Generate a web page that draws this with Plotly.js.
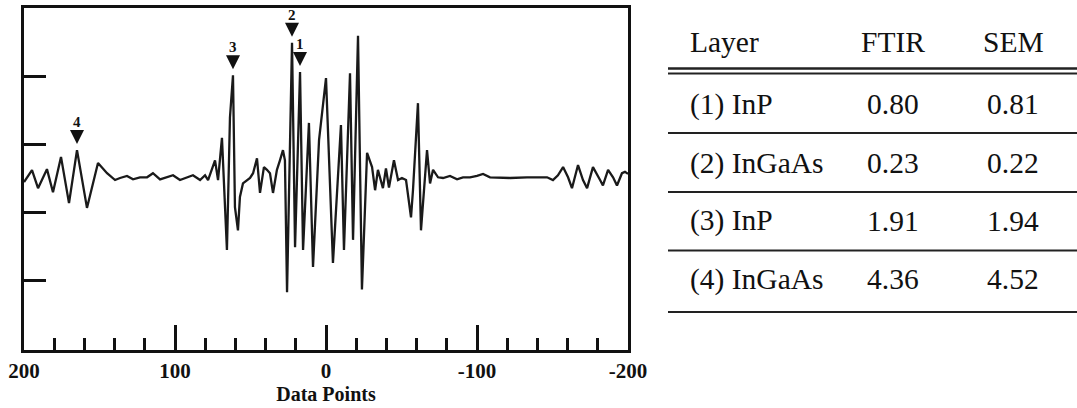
<!DOCTYPE html>
<html><head><meta charset="utf-8">
<script src="https://cdn.plot.ly/plotly-3.0.1.min.js"></script>
<style>html,body{margin:0;padding:0;background:#fff;overflow:hidden}</style>
</head><body><div id="chart" style="width:1077px;height:408px"></div>
<script>
// ---- data ----
const dataPoints = [200,194.7,190.7,184.8,180.8,175.5,170.2,164.9,158.3,151,145,139.7,136.4,131.8,127.8,123.2,118.5,114.6,109.9,105.3,101.3,96.7,92.1,88.1,83.4,80.1,78.1,73.5,71.5,68.9,65.6,63.6,61.6,60.3,58.3,57,55,50.3,48.3,45.7,43.7,41.1,39.1,37.1,35.1,32.5,30.5,28.5,27.2,25.8,22.5,20.5,17.2,15.2,11.3,8.6,4.6,0,-4.6,-7.3,-9.9,-11.9,-15.9,-17.9,-21.2,-23.8,-27.2,-30.5,-32.5,-34.4,-37.7,-39.7,-41.7,-45,-47.7,-50.3,-53,-56.3,-57.6,-60.9,-62.9,-66.9,-68.9,-70.9,-74.2,-77.5,-82.1,-86.8,-90.7,-95.4,-100,-104,-108.6,-121.9,-133.1,-146.4,-150.3,-153.6,-157,-160.3,-162.9,-166.9,-170.2,-172.9,-176.8,-181.5,-183.4,-186.8,-190.1,-192.7,-196,-198,-200];
const amplitude = [-0.05,0.125,-0.14,0.14,-0.2,0.32,-0.36,0.42,-0.43,0.23,0.08,-0.02,0.01,0.04,-0.01,0.02,0.02,0.08,-0.01,0.02,0.05,-0.02,0.02,0.05,-0.02,0.05,-0.02,0.27,-0.02,0.6,-1.05,0.9,1.52,-0.42,-0.76,-0.27,-0.07,0.01,0.08,0.3,-0.21,0.17,0.13,0.08,-0.21,0.13,0.27,0.42,0.27,-1.67,2.0,-1.01,1.57,-1.05,0.82,-1.3,0.57,1.48,-1.24,-0.13,0.79,-1.05,1.55,-0.9,2.1,-1.63,0.38,0.17,-0.17,0.13,-0.14,0.15,-0.13,0.27,-0.02,0.01,-0.02,-0.57,-0.17,1.11,-0.76,0.42,-0.07,0.13,0.02,0.01,0.04,-0.01,0.02,0.02,0.04,0.07,0.02,0.01,0.02,0.02,-0.02,0.05,0.17,0.02,-0.14,0.2,-0.02,-0.14,0.17,-0.02,-0.1,0.13,0.02,-0.1,0.08,0.1,0.07];
const peakLabels = ['4','3','2','1'];
const peakPositions = [164.9, 61.6, 22.5, 17.2];
const xTickValues = [200,100,0,-100,-200];
const xTickLabels = ['200','100','0','-100','-200'];
const xMinorTicks = [180,160,140,120,80,60,40,20,-20,-40,-60,-80,-120,-140,-160,-180];
const yTickValues = [-1.5,-0.5,0.5,1.5];
const tableHeader = ['Layer','FTIR','SEM'];
const layerNames = ['(1) InP','(2) InGaAs','(3) InP','(4) InGaAs'];
const ftirValues = ['0.80','0.23','1.91','4.36'];
const semValues = ['0.81','0.22','1.94','4.52'];

// ---- layout helpers (pixel -> paper) ----
const L=24,R=628,T=8,B=350,W=1077,H=408;
const px = v => (v-L)/(R-L);
const py = v => (B-v)/(B-T);

const serif = 'Liberation Serif, Times New Roman, serif';
const ink = '#111';

const annotations = [];
// peak markers
peakLabels.forEach((lab,i)=>{
  let best=0;
  dataPoints.forEach((d,j)=>{ if(Math.abs(d-peakPositions[i])<Math.abs(dataPoints[best]-peakPositions[i])) best=j; });
  annotations.push({x:dataPoints[best], y:amplitude[best], xref:'x', yref:'y', text:'<b>'+lab+'</b>',
    showarrow:true, ax:0, ay:-28, arrowhead:2, arrowsize:1.4, arrowwidth:2, arrowcolor:ink, standoff:6,
    font:{family:serif, size:15, color:ink}});
});
// table text
const colX = [688, 893, 1013];
const rowY = [42, 104, 163, 221, 279];
const tableFont = {family:serif, size:29.5, color:ink};
tableHeader.forEach((h,c)=>{
  annotations.push({x:px(colX[c]), y:py(rowY[0]), xref:'paper', yref:'paper', text:h, showarrow:false,
    xanchor: c===0?'left':'center', yanchor:'middle', font:tableFont});
});
layerNames.forEach((n,r)=>{
  [n, ftirValues[r], semValues[r]].forEach((t,c)=>{
    annotations.push({x:px(colX[c]), y:py(rowY[r+1]), xref:'paper', yref:'paper', text:t, showarrow:false,
      xanchor: c===0?'left':'center', yanchor:'middle', font:tableFont});
  });
});
// table rules
const ruleY = [[68.5,2.5],[73.5,2],[133,2],[192,2],[250.5,2],[312,2]];
const shapes = ruleY.map(([y,w])=>({type:'line', xref:'paper', yref:'paper', x0:px(668), x1:px(1077), y0:py(y), y1:py(y),
  line:{color:'#222', width:w}}));

const trace = {x:dataPoints, y:amplitude, type:'scatter', mode:'lines', line:{color:'#1a1a1a', width:2.3}, hoverinfo:'skip'};

const layout = {
  width:W, height:H, margin:{l:L, r:W-R, t:T, b:H-B}, paper_bgcolor:'#fff', plot_bgcolor:'#fff', showlegend:false,
  xaxis:{range:[200,-200], tickmode:'array', tickvals:xTickValues, ticktext:xTickLabels, ticks:'inside', ticklen:25, tickwidth:3, tickcolor:ink,
    minor:{tickmode:'array', tickvals:xMinorTicks, ticks:'inside', ticklen:12, tickwidth:3, tickcolor:ink},
    showline:true, mirror:true, linewidth:3, linecolor:ink, showgrid:false, zeroline:false, automargin:false,
    tickfont:{family:serif, size:21, color:ink, weight:'bold'},
    title:{text:'<b>Data Points</b>', font:{family:serif, size:20, color:ink}, standoff:2}},
  yaxis:{range:[-2.52,2.51], tickmode:'array', tickvals:yTickValues, ticks:'inside', ticklen:22, tickwidth:2.5, tickcolor:ink,
    showticklabels:false, showline:true, mirror:true, linewidth:3, linecolor:ink, showgrid:false, zeroline:false, automargin:false},
  annotations, shapes
};
Plotly.newPlot('chart', [trace], layout, {staticPlot:true, displayModeBar:false});
</script></body></html>
